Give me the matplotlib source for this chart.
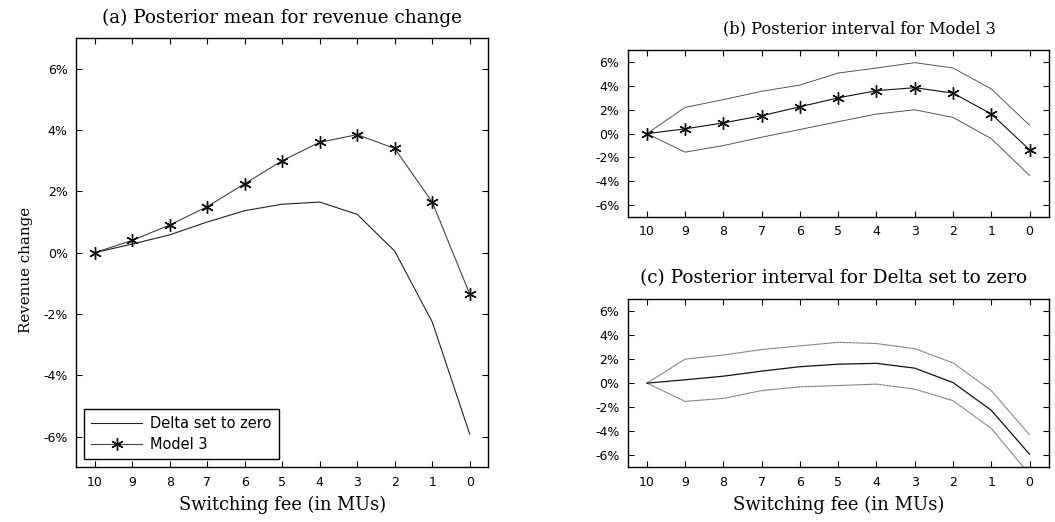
import numpy as np
import matplotlib
matplotlib.use("Agg")
import matplotlib.pyplot as plt

# switching fee values (x axis, shown reversed)
fees = [10, 9, 8, 7, 6, 5, 4, 3, 2, 1, 0]

# posterior means (% revenue change)
model3_mean = [0.0, 0.4, 0.9, 1.5, 2.25, 3.0, 3.6, 3.85, 3.4, 1.65, -1.35]
delta0_mean = [0.0, 0.28, 0.58, 1.0, 1.37, 1.58, 1.65, 1.25, 0.05, -2.26, -5.92]

# posterior interval bounds, Model 3
model3_upper = [0.0, 2.2, 2.85, 3.55, 4.07, 5.08, 5.5, 5.95, 5.5, 3.75, 0.7]
model3_lower = [0.0, -1.55, -1.0, -0.3, 0.35, 1.0, 1.64, 2.0, 1.36, -0.42, -3.5]

# posterior interval bounds, Delta set to zero
delta0_upper = [0.0, 2.0, 2.34, 2.8, 3.1, 3.4, 3.3, 2.87, 1.69, -0.62, -4.3]
delta0_lower = [0.0, -1.52, -1.27, -0.62, -0.31, -0.2, -0.08, -0.5, -1.46, -3.77, -7.6]

yticks = [-6, -4, -2, 0, 2, 4, 6]
ytick_labels = ["-6%", "-4%", "-2%", "0%", "2%", "4%", "6%"]

serif = "DejaVu Serif"
sans = "DejaVu Sans"
star = (6, 2, 0)


def style_axes(ax):
	ax.set_xlim(10.5, -0.5)
	ax.set_ylim(-7, 7)
	ax.set_xticks(fees)
	ax.set_xticklabels([str(f) for f in fees], fontfamily=sans, fontsize=9)
	ax.set_yticks(yticks)
	ax.set_yticklabels(ytick_labels, fontfamily=sans, fontsize=9)
	ax.tick_params(direction="in", top=True, right=True, length=4, width=0.8, pad=6)
	for s in ax.spines.values():
		s.set_linewidth(1.0)
		s.set_color("black")


fig = plt.figure(figsize=(10.55, 5.22), dpi=100)

# (a) posterior means
ax1 = fig.add_axes([0.072, 0.105, 0.391, 0.822])
ax1.plot(fees, delta0_mean, color="#222222", lw=0.8, label="Delta set to zero")
ax1.plot(fees, model3_mean, color="#444444", lw=0.8, marker=star, markersize=9,
	markeredgewidth=1.0, markeredgecolor="#111111", label="Model 3")
style_axes(ax1)
ax1.set_title("(a) Posterior mean for revenue change", fontfamily=serif, fontsize=13.2,
	pad=11)
ax1.set_xlabel("Switching fee (in MUs)", fontfamily=serif, fontsize=12.8, labelpad=5)
ax1.set_ylabel("Revenue change", fontfamily=serif, fontsize=10.8)
ax1.yaxis.set_label_coords(-0.105, 0.46)
leg = ax1.legend(loc="lower left", prop={"family": sans, "size": 10.5}, fancybox=False,
	framealpha=1, edgecolor="black", borderaxespad=0.55, handlelength=3.5,
	handletextpad=0.55, labelspacing=0.4, borderpad=0.5)
leg.get_frame().set_linewidth(1.0)

# (b) interval for Model 3
ax2 = fig.add_axes([0.595, 0.584, 0.399, 0.320])
ax2.plot(fees, model3_upper, color="#555555", lw=0.7)
ax2.plot(fees, model3_lower, color="#555555", lw=0.7)
ax2.plot(fees, model3_mean, color="#111111", lw=0.8, marker=star, markersize=9,
	markeredgewidth=1.0)
style_axes(ax2)
ax2.set_title("(b) Posterior interval for Model 3", fontfamily=serif, fontsize=11.7,
	x=0.551, pad=12)

# (c) interval for Delta set to zero
ax3 = fig.add_axes([0.595, 0.105, 0.399, 0.322])
ax3.plot(fees, delta0_upper, color="#666666", lw=0.8, ls=(0, (1, 0.3)))
ax3.plot(fees, delta0_lower, color="#666666", lw=0.8, ls=(0, (1, 0.3)))
ax3.plot(fees, delta0_mean, color="#111111", lw=0.9)
style_axes(ax3)
ax3.set_title("(c) Posterior interval for Delta set to zero", fontfamily=serif, fontsize=13.3,
	x=0.49, pad=11.5)
ax3.set_xlabel("Switching fee (in MUs)", fontfamily=serif, fontsize=13, labelpad=5)

fig.savefig("out.png", dpi=100)
